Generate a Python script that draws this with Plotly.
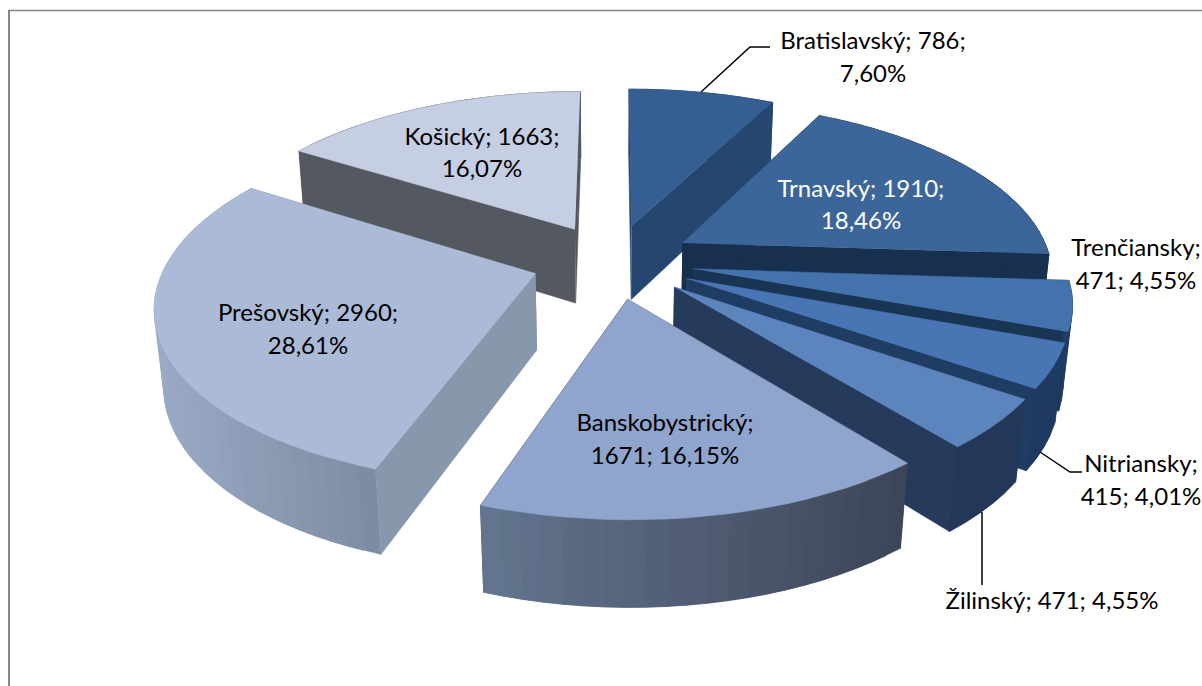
import numpy as np
import plotly.graph_objects as go

# ---- data ----
names = ["Bratislavský", "Trnavský", "Trenčiansky", "Nitriansky", "Žilinský",
         "Banskobystrický", "Prešovský", "Košický"]
values = [786, 1910, 471, 415, 471, 1671, 2960, 1663]

# ---- styles ----
top_colors = ["#355f92", "#3c6699", "#4472ac", "#4876b5", "#5c84bd", "#8fa5cd", "#abbad6", "#c5cee2"]
face_colors = ["#24466f", "#18304f", "#1a3454", "#1f3d63", "#263a5c", "#3d4558", "#8797ac", "#545860"]
rim_left = ["#24466f", "#18304f", "#1f3d63", "#1f3a60", "#233758", "#64758f", "#9aaac6", "#545860"]
rim_right = ["#24466f", "#18304f", "#1f3d63", "#1f3a60", "#233758", "#3c4458", "#7d8ba2", "#545860"]

# ---- projection of the exploded, tilted pie ----
CX, CY, RX, RY, K, EXPLODE, THICK, CONV = 613, 261, 369, 170, 0.165, 0.22, 77, 0.02


def project(gx, gz, bottom=False):
    w = 1 + K * gz + (CONV if bottom else 0)
    return CX + RX * gx / w, CY - RY * gz / w + (THICK / w if bottom else 0)


def hex_mix(a, b, t):
    ca = [int(a[i:i + 2], 16) for i in (1, 3, 5)]
    cb = [int(b[i:i + 2], 16) for i in (1, 3, 5)]
    return "rgb(%d,%d,%d)" % tuple(round(p + (q - p) * t) for p, q in zip(ca, cb))


def poly(xs, ys, color):
    return go.Scatter(x=list(xs), y=list(ys), mode="lines", fill="toself", fillcolor=color,
                      line=dict(color=color, width=0.6), hoverinfo="skip", showlegend=False)


total = sum(values)
edges = np.cumsum([0] + values) / total * 2 * np.pi
slices = []
for i in range(len(values)):
    a0, a1 = edges[i], edges[i + 1]
    m = (a0 + a1) / 2
    slices.append((np.cos(m), i, a0, a1, m))

fig = go.Figure()
for _, i, a0, a1, m in sorted(slices, key=lambda s: -s[0]):
    ox, oz = EXPLODE * np.sin(m), EXPLODE * np.cos(m)
    th = np.linspace(a0, a1, max(4, int((a1 - a0) / np.radians(2.5))))
    gx, gz = ox + np.sin(th), oz + np.cos(th)
    tx, ty = project(gx, gz)
    bx, by = project(gx, gz, True)
    ax, ay = project(ox, oz)
    abx, aby = project(ox, oz, True)
    # cut faces
    for k in (-1, 0):
        fig.add_trace(poly([ax, tx[k], bx[k], abx], [ay, ty[k], by[k], aby], face_colors[i]))
    # outer rim as shaded strips, each overlapping the next so no seam shows
    lo, hi = tx.min(), tx.max()
    n = len(th)
    for j in range(n - 1):
        e = min(j + 2, n - 1)
        t = ((tx[j] + tx[j + 1]) / 2 - lo) / max(hi - lo, 1)
        seg = np.arange(j, e + 1)
        fig.add_trace(poly(np.r_[tx[seg], bx[seg][::-1]], np.r_[ty[seg], by[seg][::-1]],
                           hex_mix(rim_left[i], rim_right[i], t)))
    # top
    fig.add_trace(poly(np.r_[ax, tx], np.r_[ay, ty], top_colors[i]))


def fmt_pct(v):
    return f"{v / total * 100:.2f}%".replace(".", ",")


label_lines = [
    [f"{names[0]}; {values[0]};", fmt_pct(values[0])],
    [f"{names[1]}; {values[1]};", fmt_pct(values[1])],
    [f"{names[2]};", f"{values[2]}; {fmt_pct(values[2])}"],
    [f"{names[3]};", f"{values[3]}; {fmt_pct(values[3])}"],
    [f"{names[4]}; {values[4]}; {fmt_pct(values[4])}"],
    [f"{names[5]};", f"{values[5]}; {fmt_pct(values[5])}"],
    [f"{names[6]}; {values[6]};", fmt_pct(values[6])],
    [f"{names[7]}; {values[7]};", fmt_pct(values[7])],
]
label_x = [873, 861, 1136, 1141, 1052, 665, 308, 482]
label_y = [[43, 76], [191, 223], [250, 283], [466, 499], [603], [425, 458], [315, 348], [139, 171]]
label_color = ["#000000", "#ffffff", "#000000", "#000000", "#000000", "#000000", "#000000", "#000000"]

for lines, lx, lys, col in zip(label_lines, label_x, label_y, label_color):
    fig.add_trace(go.Scatter(x=[lx] * len(lines), y=lys, text=lines, mode="text", textposition="middle center",
                             textfont=dict(family="Lato, Carlito, Calibri, sans-serif", size=24, color=col),
                             hoverinfo="skip", showlegend=False, cliponaxis=False))

leaders = [([701, 750, 770], [92, 47, 47]),
           ([1040, 1070, 1082], [452, 472, 472]),
           ([982, 982], [512, 585])]
for lx, ly in leaders:
    fig.add_trace(go.Scatter(x=lx, y=ly, mode="lines", line=dict(color="#000000", width=1.5),
                             hoverinfo="skip", showlegend=False))

fig.add_shape(type="line", x0=9, x1=9, y0=10, y1=686, line=dict(color="#868686", width=2))
fig.add_shape(type="line", x0=8, x1=1202, y0=10.5, y1=10.5, line=dict(color="#868686", width=1.5))

fig.update_layout(width=1202, height=686, margin=dict(l=0, r=0, t=0, b=0),
                  paper_bgcolor="#ffffff", plot_bgcolor="#ffffff",
                  xaxis=dict(range=[0, 1202], visible=False, fixedrange=True),
                  yaxis=dict(range=[686, 0], visible=False, fixedrange=True))
fig.write_html("out.html", config={"displayModeBar": False},
               post_script="document.body.style.margin='0';document.body.style.overflow='hidden';")
